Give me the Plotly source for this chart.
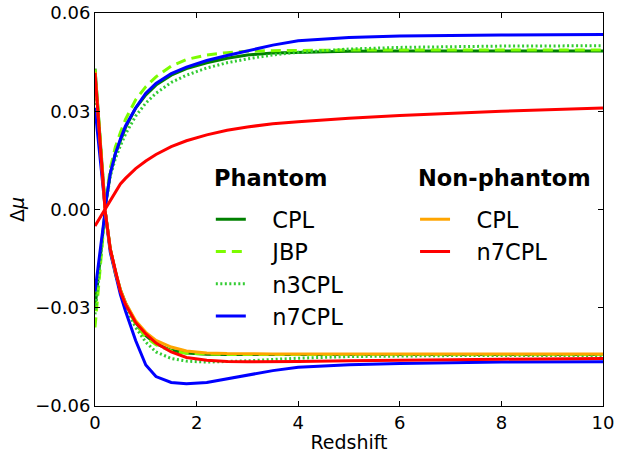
import plotly.graph_objects as go

z = [0, 0.2, 0.3, 0.4, 0.5, 0.6, 0.8, 1.0, 1.2, 1.5, 1.8, 2.2, 2.6, 3.0, 3.5, 4, 5, 6, 7, 8, 10]

# Phantom models (upper and lower branches)
cpl_up = [0.043, 0.0005, 0.011, 0.017, 0.021, 0.025, 0.031, 0.035, 0.038, 0.041, 0.043, 0.0448, 0.0462, 0.0472, 0.0478, 0.048, 0.0483, 0.0484, 0.0484, 0.0484, 0.0484]
cpl_dn = [-0.030, -0.0005, -0.012, -0.019, -0.0245, -0.0285, -0.0345, -0.0385, -0.041, -0.043, -0.0438, -0.0442, -0.0443, -0.0443, -0.0443, -0.0443, -0.0443, -0.0443, -0.0443, -0.0443, -0.0443]
jbp_up = [0.0428, 0.001, 0.0125, 0.019, 0.0235, 0.0275, 0.0335, 0.0375, 0.0405, 0.0438, 0.0458, 0.0472, 0.0479, 0.0483, 0.0485, 0.0486, 0.0487, 0.0487, 0.0487, 0.0487, 0.0487]
jbp_dn = [-0.036, -0.0005, -0.0125, -0.0195, -0.025, -0.029, -0.035, -0.039, -0.0413, -0.0432, -0.0439, -0.0442, -0.0443, -0.0443, -0.0443, -0.0443, -0.0443, -0.0443, -0.0443, -0.0443, -0.0443]
n3_up = [0.038, 0.0005, 0.010, 0.0155, 0.0195, 0.023, 0.0285, 0.0325, 0.0355, 0.0388, 0.041, 0.0432, 0.0448, 0.046, 0.0472, 0.048, 0.049, 0.0495, 0.0497, 0.0499, 0.050]
n3_dn = [-0.032, -0.0005, -0.012, -0.019, -0.025, -0.0295, -0.036, -0.0405, -0.0435, -0.0455, -0.0463, -0.0466, -0.0465, -0.0462, -0.0458, -0.0454, -0.0449, -0.0447, -0.0446, -0.0446, -0.0446]
n7_up = [0.031, 0.0005, 0.011, 0.017, 0.0215, 0.0255, 0.031, 0.0355, 0.0385, 0.0415, 0.0435, 0.0455, 0.047, 0.0485, 0.0502, 0.0515, 0.0525, 0.053, 0.0532, 0.0533, 0.0534]
n7_dn = [-0.025, -0.0005, -0.013, -0.020, -0.026, -0.031, -0.040, -0.0475, -0.051, -0.0528, -0.0532, -0.0528, -0.0517, -0.0505, -0.0492, -0.0482, -0.0474, -0.047, -0.0468, -0.0466, -0.0465]

# Non-phantom models
np_cpl = [0.042, -0.0005, -0.012, -0.019, -0.0245, -0.0285, -0.034, -0.0375, -0.040, -0.042, -0.0432, -0.0438, -0.044, -0.0441, -0.0441, -0.0441, -0.0441, -0.0441, -0.0441, -0.0441, -0.0441]
np_n7_a = [0.0417, -0.0005, -0.012, -0.019, -0.025, -0.029, -0.0345, -0.038, -0.0408, -0.0435, -0.0452, -0.046, -0.0464, -0.0465, -0.0465, -0.0464, -0.0462, -0.046, -0.0458, -0.0457, -0.0455]
np_n7_b = [-0.005, 0.0002, 0.003, 0.0055, 0.0078, 0.0095, 0.0125, 0.0148, 0.0168, 0.0192, 0.021, 0.0228, 0.0242, 0.0252, 0.0262, 0.0268, 0.0279, 0.0287, 0.0294, 0.030, 0.031]

yticks = [-0.06, -0.03, 0.0, 0.03, 0.06]
xticks = [0, 2, 4, 6, 8, 10]

GREEN = "#008000"
LAWN = "#7CFC00"
LIME = "#33CC33"
BLUE = "#0000FF"
ORANGE = "#FFA500"
RED = "#FF0000"

fig = go.Figure()

def add(y, name, color, group, dash="solid", width=3, legend="legend", show=True):
    fig.add_trace(go.Scatter(
        x=z, y=y, mode="lines", name=name, showlegend=show, legend=legend,
        legendgroup=group,
        line=dict(color=color, width=width, dash=dash),
    ))

PAD = "\u00a0\u00a0\u00a0"
add(cpl_up, PAD + "CPL", GREEN, "p_cpl")
add(cpl_dn, "CPL", GREEN, "p_cpl", show=False)
add(jbp_up, PAD + "JBP", LAWN, "p_jbp", dash="10px,6px")
add(jbp_dn, "JBP", LAWN, "p_jbp", dash="10px,6px", show=False)
add(n3_up, PAD + "n3CPL", LIME, "p_n3", dash="2px,2.5px")
add(n3_dn, "n3CPL", LIME, "p_n3", dash="2px,2.5px", show=False)
add(n7_up, PAD + "n7CPL", BLUE, "p_n7")
add(n7_dn, "n7CPL", BLUE, "p_n7", show=False)
add(np_cpl, PAD + "CPL", ORANGE, "np_cpl", legend="legend2")
add(np_n7_a, PAD + "n7CPL", RED, "np_n7", legend="legend2")
add(np_n7_b, "n7CPL", RED, "np_n7", legend="legend2", show=False)

FONT = "DejaVu Sans"
axis_common = dict(
    showline=True, linecolor="black", linewidth=1, mirror="ticks",
    ticks="inside", ticklen=5, tickcolor="black", showgrid=False, zeroline=False,
    automargin=False,
    tickfont=dict(family=FONT, size=18, color="black"),
)

leg_common = dict(
    bgcolor="rgba(0,0,0,0)", borderwidth=0,
    font=dict(family=FONT, size=22.5, color="black"),
    itemwidth=30, tracegroupgap=0, xanchor="left", yanchor="top",
)

fig.update_layout(
    width=617, height=454,
    margin=dict(l=95, r=14, t=13, b=48),
    plot_bgcolor="white", paper_bgcolor="white",
    font=dict(family=FONT, color="black"),
    xaxis=dict(range=[0, 10], tickvals=xticks, title=dict(text="Redshift", font=dict(family=FONT, size=19), standoff=4), **axis_common),
    yaxis=dict(range=[-0.06, 0.06], tickvals=yticks, tickformat=".2f", title=dict(text="Δ<i>μ</i>", font=dict(family=FONT, size=19), standoff=5), **axis_common),
    legend=dict(x=0.228, y=0.529, **leg_common),
    legend2=dict(x=0.63, y=0.529, **leg_common),
    annotations=[
        dict(text="<b>Phantom</b>", xref="paper", yref="paper", x=0.2303, y=0.580,
             xanchor="left", yanchor="middle", showarrow=False,
             font=dict(family=FONT, size=22.5, color="black")),
        dict(text="<b>Non-phantom</b>", xref="paper", yref="paper", x=0.632, y=0.580,
             xanchor="left", yanchor="middle", showarrow=False,
             font=dict(family=FONT, size=22.5, color="black")),
    ],
)

fig.write_html("out.html")
